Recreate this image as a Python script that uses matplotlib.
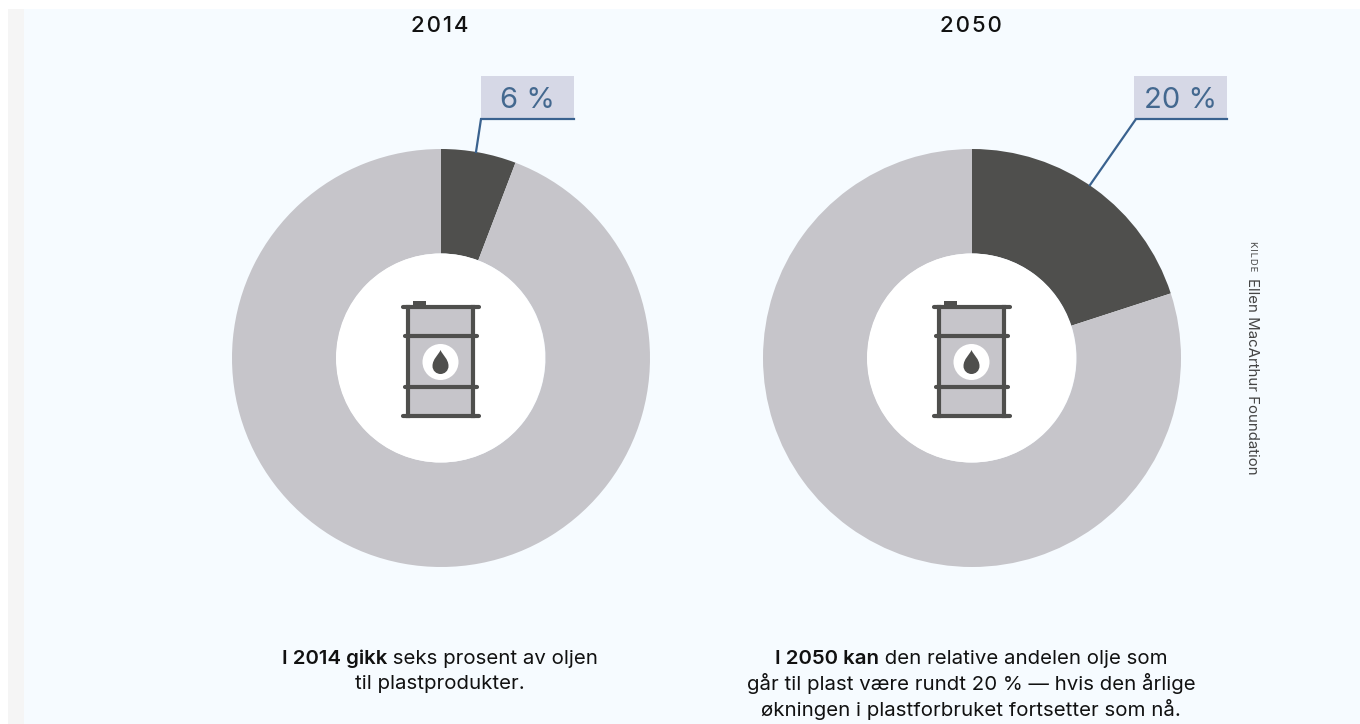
#!/usr/bin/env python3
"""Two donut charts: share of oil going to plastic, 2014 vs 2050."""

import matplotlib
matplotlib.use("Agg")
import matplotlib.pyplot as plt
from matplotlib.patches import Circle, PathPatch, Rectangle
from matplotlib.path import Path

years = ["2014", "2050"]
oil_to_plastic = [5.8, 20]
other_oil = [94.2, 80]
callouts = ["6 %", "20 %"]

caption_2014 = [
    [("I 2014 gikk", True), (" seks prosent av oljen", False)],
    [("til plastprodukter.", False)],
]
caption_2050 = [
    [("I 2050 kan", True), (" den relative andelen olje som", False)],
    [("går til plast være rundt 20 % — hvis den årlige", False)],
    [("økningen i plastforbruket fortsetter som nå.", False)],
]

W, H = 1360, 724
FONT = "Inter"
DARK = "#4f4f4d"
GREY = "#c6c5ca"
BLUE = "#3a628f"
BLUE_TXT = "#43688f"
LABEL_BG = "#d6d8e6"
PAGE = "#f6fbff"
TEXT = "#111111"

fig = plt.figure(figsize=(W / 100, H / 100), dpi=100, facecolor="white")
bg = fig.add_axes([0, 0, 1, 1])
bg.set_xlim(0, W)
bg.set_ylim(H, 0)
bg.axis("off")
bg.add_patch(Rectangle((8, 9), 16, H - 9, color="#f5f5f5", lw=0))
bg.add_patch(Rectangle((24, 9), W - 24, H - 9, color=PAGE, lw=0))


def donut(cx, cy, r, share, rest):
    ax = fig.add_axes([(cx - r) / W, 1 - (cy + r) / H, 2 * r / W, 2 * r / H])
    ax.pie([share, rest], colors=[DARK, GREY], startangle=90, counterclock=False,
           radius=1, wedgeprops={"width": 0.5, "linewidth": 0})
    ax.set_xlim(-1, 1)
    ax.set_ylim(-1, 1)
    ax.patch.set_alpha(0)
    return ax


def barrel(ax, cx):
    # icon in the donut hole, drawn in page pixels
    c = cx - 0.5
    ax.add_patch(Circle((c, 358), 104.5, color="white", lw=0, zorder=3))
    ax.add_patch(Rectangle((cx - 33, 307), 65, 109, color=GREY, lw=0, zorder=4))
    ax.add_patch(Rectangle((cx - 28, 301), 13, 6, color=DARK, lw=0, zorder=5))
    lw = 3.0
    for x in (cx - 33, cx + 32):
        ax.plot([x, x], [307, 416], color=DARK, lw=lw, zorder=5)
    for y, half in ((307, 38), (336, 36), (387, 36), (416, 38)):
        ax.plot([c - half, c + half], [y, y], color=DARK, lw=lw,
                solid_capstyle="round", zorder=5)
    ax.add_patch(Circle((c, 362), 18, color="white", lw=0, zorder=6))
    verts = [(c, 350), (c - 2, 355), (c - 8, 359), (c - 8, 366),
             (c - 8, 371), (c - 4, 374), (c, 374),
             (c + 4, 374), (c + 8, 371), (c + 8, 366),
             (c + 8, 359), (c + 2, 355), (c, 350)]
    codes = [Path.MOVETO] + [Path.CURVE4] * 12
    ax.add_patch(PathPatch(Path(verts, codes), color=DARK, lw=0, zorder=7))


def rich_line(ax, cx, y, parts, size):
    # centre a line made of bold and regular runs
    r = fig.canvas.get_renderer()
    pieces = []
    for s, bold in parts:
        t = ax.text(0, y, s.replace(" ", "\u00a0"), fontsize=size, family=FONT,
                    fontweight="semibold" if bold else "normal", color=TEXT,
                    va="center", ha="left", zorder=8)
        pieces.append((t, t.get_window_extent(r).width))
    x = cx - sum(w for _, w in pieces) / 2
    for t, w in pieces:
        t.set_x(x)
        x += w


centres = [441, 972]
for i, cx in enumerate(centres):
    donut(cx, 358, 209, oil_to_plastic[i], other_oil[i])

# overlay in page pixels for the icon, labels and captions
top = fig.add_axes([0, 0, 1, 1])
top.set_xlim(0, W)
top.set_ylim(H, 0)
top.axis("off")
top.patch.set_alpha(0)

for cx in centres:
    barrel(top, cx)

for x, year in zip((440, 970.5), years):
    top.text(x, 26, "\u200a".join(year), fontsize=16, family=FONT, fontweight="medium",
             color=TEXT, ha="center", va="center")

boxes = [(481, 93), (1134, 93)]
leaders = [([574, 481, 476], [119, 119, 152]), ([1227, 1136, 1090], [119, 119, 185])]
for (x0, w), (lx, ly), label in zip(boxes, leaders, callouts):
    top.add_patch(Rectangle((x0, 76), w, 43, color=LABEL_BG, lw=0))
    top.plot(lx, ly, color=BLUE, lw=1.6, solid_joinstyle="miter")
    top.text(x0 + w / 2, 100, label, fontsize=21, family=FONT, color=BLUE_TXT,
             ha="center", va="center")

for n, parts in enumerate(caption_2014):
    rich_line(top, 440, 659 + n * 25, parts, 14.7)
for n, parts in enumerate(caption_2050):
    rich_line(top, 971, 659 + n * 25, parts, 14.7)

top.text(1252, 241, "\u200a".join("KILDE"), fontsize=6.8, family=FONT, color="#444444", rotation=270,
         ha="center", va="top")
top.text(1252, 278, "Ellen MacArthur Foundation", fontsize=10.8, family=FONT, color="#444444",
         rotation=270, ha="center", va="top")

fig.savefig("out.png", dpi=100, facecolor="white")
